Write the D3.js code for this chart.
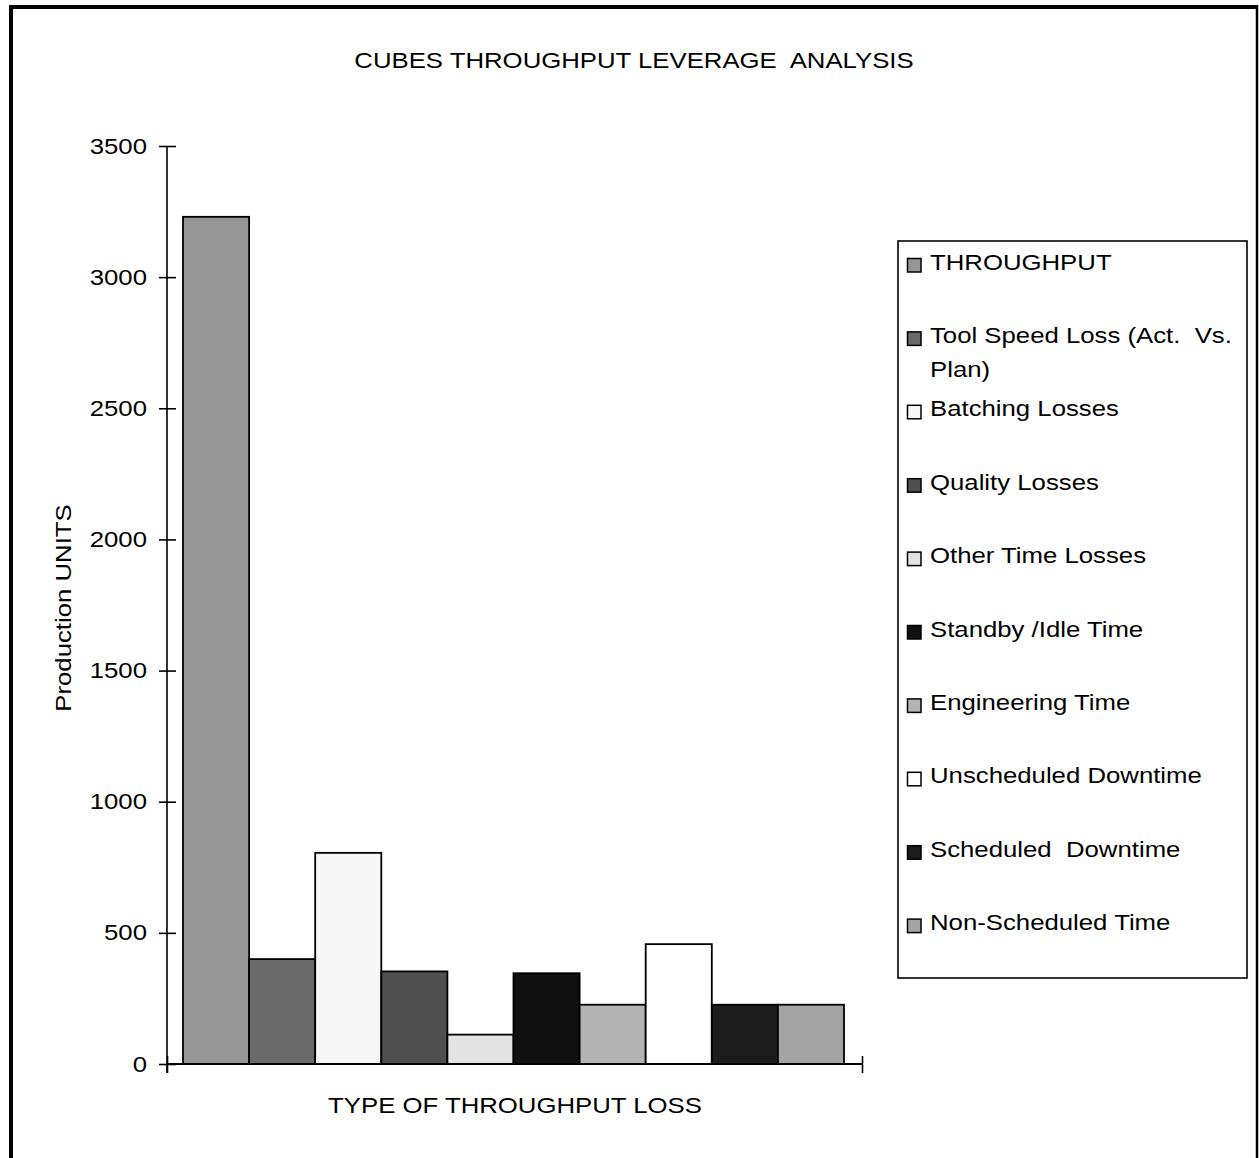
<!DOCTYPE html>
<html>
<head>
<meta charset="utf-8">
<script src="https://cdn.jsdelivr.net/npm/d3@7"></script>
<style>
  html, body { margin: 0; padding: 0; background: #fff; }
  svg { display: block; font-family: "Liberation Sans", Arial, sans-serif; }
  text { white-space: pre; }
</style>
</head>
<body>
<svg id="chart" width="1259" height="1158"></svg>
<script>
// ---- data ----
const categories = [
  "THROUGHPUT",
  "Tool Speed Loss (Act.  Vs. Plan)",
  "Batching Losses",
  "Quality Losses",
  "Other Time Losses",
  "Standby /Idle Time",
  "Engineering Time",
  "Unscheduled Downtime",
  "Scheduled  Downtime",
  "Non-Scheduled Time"
];
const legendLines = [
  ["THROUGHPUT"],
  ["Tool Speed Loss (Act.  Vs.", "Plan)"],
  ["Batching Losses"],
  ["Quality Losses"],
  ["Other Time Losses"],
  ["Standby /Idle Time"],
  ["Engineering Time"],
  ["Unscheduled Downtime"],
  ["Scheduled  Downtime"],
  ["Non-Scheduled Time"]
];
const values = [3230, 400, 805, 353, 112, 346, 226, 457, 226, 226];
const colors = ["#969696", "#6a6a6a", "#f7f7f7", "#4f4f4f", "#e3e3e3",
                "#111111", "#b3b3b3", "#ffffff", "#1c1c1c", "#a3a3a3"];
const yTicks = [0, 500, 1000, 1500, 2000, 2500, 3000, 3500];
const title = "CUBES THROUGHPUT LEVERAGE  ANALYSIS";
const xTitle = "TYPE OF THROUGHPUT LOSS";
const yTitle = "Production UNITS";

// ---- layout ----
const SX = 1.17;       // horizontal glyph stretch of the original typeface
const FS = 22;
const svg = d3.select("#chart");

function stretch(sel) {
  sel.each(function () {
    const w = this.getComputedTextLength();
    d3.select(this).attr("textLength", w * SX).attr("lengthAdjust", "spacingAndGlyphs");
  });
}

// outer frame
svg.append("line").attr("x1", 11).attr("y1", 5).attr("x2", 11).attr("y2", 1158)
  .attr("stroke", "#000").attr("stroke-width", 4);
svg.append("line").attr("x1", 9).attr("y1", 7).attr("x2", 1258).attr("y2", 7)
  .attr("stroke", "#000").attr("stroke-width", 4);
svg.append("line").attr("x1", 1257).attr("y1", 5).attr("x2", 1257).attr("y2", 1158)
  .attr("stroke", "#000").attr("stroke-width", 2.5);

const plot = { left: 167, right: 862, top: 146, bottom: 1064 };

const y = d3.scaleLinear().domain([0, 3500]).range([plot.bottom, plot.top]);
const x = d3.scaleBand().domain(categories)
  .range([plot.left + 16, plot.right - 18]).padding(0);

// bars
svg.append("g").selectAll("rect").data(values).join("rect")
  .attr("x", (d, i) => x(categories[i]))
  .attr("y", d => y(d))
  .attr("width", x.bandwidth())
  .attr("height", d => y(0) - y(d))
  .attr("fill", (d, i) => colors[i])
  .attr("stroke", "#000").attr("stroke-width", 1.8);

// y axis
const yAxis = svg.append("g").attr("transform", `translate(${plot.left},0)`)
  .call(d3.axisLeft(y).tickValues(yTicks).tickSize(8).tickPadding(12).tickFormat(d3.format("d")));
yAxis.select(".domain").attr("d", `M0,${plot.top}V${plot.bottom + 9}`).attr("stroke-width", 1.6);
yAxis.selectAll(".tick line").attr("x1", -8).attr("x2", 9).attr("stroke-width", 1.6);
yAxis.selectAll(".tick text").attr("font-size", FS).attr("fill", "#000")
  .attr("font-family", '"Liberation Sans", Arial, sans-serif').call(stretch);

// x axis (single category span with boundary ticks)
const xEdge = d3.scaleLinear().domain([0, 1]).range([plot.left, plot.right]);
const xAxis = svg.append("g").attr("transform", `translate(0,${plot.bottom})`)
  .call(d3.axisBottom(xEdge).tickValues([0, 1]).tickSize(9).tickFormat(""));
xAxis.select(".domain").attr("d", `M${plot.left},0H${plot.right}`).attr("stroke-width", 2);
xAxis.selectAll(".tick line").attr("y1", -8).attr("y2", 9).attr("stroke-width", 1.6);

// titles
svg.append("text").attr("x", 634).attr("y", 68).attr("text-anchor", "middle")
  .attr("font-size", FS).text(title).call(stretch);
svg.append("text").attr("x", 515).attr("y", 1113).attr("text-anchor", "middle")
  .attr("font-size", FS).text(xTitle).call(stretch);
svg.append("text").attr("transform", "translate(71,608) rotate(-90)").attr("text-anchor", "middle")
  .attr("font-size", FS).text(yTitle).call(stretch);

// legend
svg.append("rect").attr("x", 898).attr("y", 241).attr("width", 349).attr("height", 737)
  .attr("fill", "#fff").attr("stroke", "#000").attr("stroke-width", 1.6);
const leg = svg.append("g").selectAll("g").data(categories).join("g")
  .attr("transform", (d, i) => `translate(0,${269.5 + 73.4 * i})`);
leg.append("rect").attr("x", 907.5).attr("y", -11).attr("width", 13.5).attr("height", 13.5)
  .attr("fill", (d, i) => colors[i]).attr("stroke", "#000").attr("stroke-width", 1.5);
leg.each(function (d, i) {
  const g = d3.select(this);
  legendLines[i].forEach((line, j) => {
    g.append("text").attr("x", 930).attr("y", j * 34).attr("font-size", FS)
      .text(line).call(stretch);
  });
});
</script>
</body>
</html>
